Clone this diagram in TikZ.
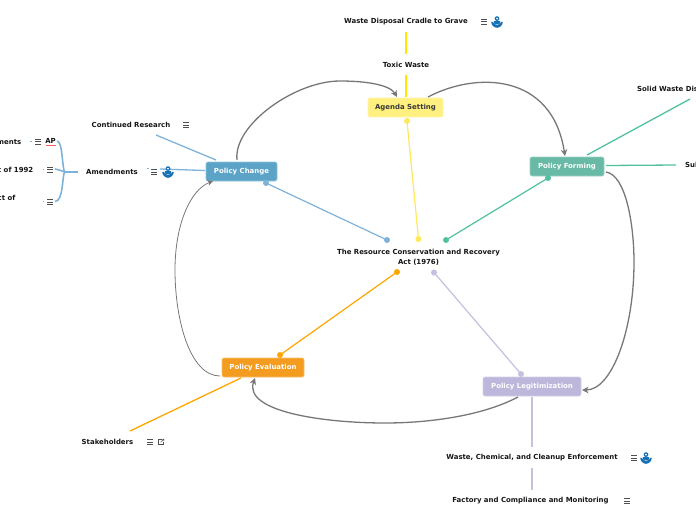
\documentclass[tikz,border=0pt]{standalone}
\usepackage{fontspec}
\setmainfont{DejaVu Sans}
\definecolor{cblue}{HTML}{5BA4C7}
\definecolor{lblue}{HTML}{7FB2D9}
\definecolor{cyel}{HTML}{FFF080}
\definecolor{lyel}{HTML}{FFE85C}
\definecolor{lyel2}{HTML}{FFE600}
\definecolor{cgreen}{HTML}{68B9A5}
\definecolor{lgreen}{HTML}{50C0A0}
\definecolor{corange}{HTML}{F39C1F}
\definecolor{lorange}{HTML}{FFA500}
\definecolor{cpurple}{HTML}{BDB7DB}
\definecolor{lpurple}{HTML}{C5BFE0}
\definecolor{curve}{HTML}{7A7676}
\definecolor{iconblue}{HTML}{1670B5}
\definecolor{ink}{HTML}{151515}
\usetikzlibrary{arrows.meta}
\newcommand{\lowtext}[1]{\raisebox{-1pt}{#1}}
\tikzset{
  x=1pt,y=-1pt,
  topic/.style={rounded corners=2pt,draw=#1!65!white,line width=.6pt,fill=#1,text=white,font=\bfseries\fontsize{6.95}{8}\selectfont,inner sep=0pt,align=center},
  leaf/.style={text=ink,font=\bfseries\fontsize{6.95}{10}\selectfont,inner sep=0pt,align=center,yshift=-1pt},
  pin/.style={circle,fill=#1,inner sep=0pt,minimum size=6pt},
  branch/.style={line width=1.3pt},
  relate/.style={draw=curve,line width=1.3pt,-{Stealth[length=6.5pt,width=6.5pt,inset=2pt]}},
  menuicon/.pic={
    \draw[ink!75,line width=.65pt] (-3,-2.6)--(3,-2.6) (-3,0)--(3,0) (-3,2.6)--(3,2.6);
  },
  bluelogo/.pic={
    \fill[iconblue] (0,-3.4) circle (2.4);
    \fill[white] (0,-3.4) circle (.9);
    \fill[iconblue] (-3.2,-1) -- (3.2,-1) -- (3.2,1.6) -- (1,2) -- (-1,2) -- (-3.2,1.6) -- cycle;
    \fill[iconblue] (-5.8,-.2) -- (-4.2,-.2) .. controls (-4,1.8) and (-2,2.6) .. (0,2.8) .. controls (2,2.6) and (4,1.8) .. (4.2,-.2) -- (5.8,-.2) .. controls (5.8,3.5) and (2.5,5.8) .. (0,5.8) .. controls (-2.5,5.8) and (-5.8,3.5) .. (-5.8,-.2) -- cycle;
  },
  linkicon/.pic={
    \draw[ink!75,line width=.55pt] (.5,-2.7) -- (-2.7,-2.7) -- (-2.7,2.7) -- (2.7,2.7) -- (2.7,-.5);
    \draw[ink!75,line width=.55pt] (-.3,.3) -- (2.7,-2.7) (1,-2.9) -- (2.9,-2.9) -- (2.9,-1);
  }
}
\begin{document}
\begin{tikzpicture}
\useasboundingbox (0,0) rectangle (696,520);
% central topic
\node[leaf] (root) at (418.5,256) {The Resource Conservation and Recovery\\Act (1976)};
% main topics
\node[topic=cyel,text=ink!85,minimum width=75pt,minimum height=19pt] (agenda) at (405.5,107.5) {\lowtext{Agenda Setting}};
\node[topic=cblue,minimum width=71pt,minimum height=19pt] (change) at (241.5,171.5) {\lowtext{Policy Change}};
\node[topic=cgreen,minimum width=74pt,minimum height=19pt] (forming) at (567,166.5) {\lowtext{Policy Forming}};
\node[topic=corange,minimum width=82pt,minimum height=19pt] (evaluation) at (263,367.5) {\lowtext{Policy Evaluation}};
\node[topic=cpurple,minimum width=98pt,minimum height=19pt] (legit) at (532,386.5) {\lowtext{Policy Legitimization}};
% pins
\node[pin=lblue] (p1a) at (387,240) {};
\node[pin=lblue] (p1b) at (266,183) {};
\node[pin=lyel] (p2a) at (418.5,239) {};
\node[pin=lyel] (p2b) at (407,121) {};
\node[pin=lgreen] (p3a) at (446,240) {};
\node[pin=lgreen] (p3b) at (548,178) {};
\node[pin=lorange] (p4a) at (397,272) {};
\node[pin=lorange] (p4b) at (280,355) {};
\node[pin=lpurple] (p5a) at (434,272.5) {};
\node[pin=lpurple] (p5b) at (521,374) {};
\draw[lblue,line width=1.2pt] (p1a.center)--(p1b.center);
\draw[lyel,line width=1.2pt] (p2a.center)--(p2b.center);
\draw[lgreen,line width=1.2pt] (p3a.center)--(p3b.center);
\draw[lorange,line width=1.2pt] (p4a.center)--(p4b.center);
\draw[lpurple,line width=1.2pt] (p5a.center)--(p5b.center);
% leaves
\node[leaf] (waste) at (406,21) {Waste Disposal Cradle to Grave};
\node[leaf] (toxic) at (406,64) {Toxic Waste};
\node[leaf] (research) at (131,124) {Continued Research};
\node[leaf] (amend) at (112,171) {Amendments};
\node[leaf,anchor=east] (f1) at (21.5,141) {ments};
\node[leaf,anchor=east] (f2) at (33.5,169) {t of 1992};
\node[leaf,anchor=east] (f3) at (15.5,197) {ct of};
\node[leaf] (ap) at (50.5,140) {AP};
\node[leaf,anchor=west] (solid) at (637,88) {Solid Waste Dis};
\node[leaf,anchor=west] (sul) at (685,164) {Sul};
\node[leaf] (stake) at (107.5,441) {Stakeholders};
\node[leaf] (enforce) at (532,457) {Waste, Chemical, and Cleanup Enforcement};
\node[leaf] (factory) at (530.5,500) {Factory and Compliance and Monitoring};
% free ends
\coordinate (e1) at (406,32); \coordinate (e2) at (406,54);
\coordinate (e3) at (406,75); \coordinate (e4) at (406,97);
\coordinate (e5) at (156,135); \coordinate (e6) at (216,160);
\coordinate (e7) at (160,169); \coordinate (e8) at (205,170.5);
\coordinate (e9) at (587,155); \coordinate (e10) at (690,99);
\coordinate (e11) at (606,165.5); \coordinate (e12) at (676,165);
\coordinate (e13) at (241,378); \coordinate (e14) at (130,431);
\coordinate (e15) at (532,397); \coordinate (e16) at (532,447);
\coordinate (e17) at (532,468); \coordinate (e18) at (532,490);
\coordinate (hub) at (65,172); \coordinate (hubr) at (78,172);
\coordinate (b1) at (57,141); \coordinate (b2) at (55,169); \coordinate (b3) at (55,201.5);
% branches
\draw[lyel2,branch] (e1)--(e2);
\draw[lyel2,branch] (e3)--(e4);
\draw[lblue,branch] (e5)--(e6);
\draw[lblue,branch] (e7)--(e8);
\draw[lgreen,branch] (e9)--(e10);
\draw[lgreen,branch] (e11)--(e12);
\draw[lorange,branch] (e13)--(e14);
\draw[lpurple,branch] (e15)--(e16);
\draw[lpurple,branch] (e17)--(e18);
\draw[lblue,line width=1.6pt] (hubr)--(hub);
\draw[lblue,line width=1.6pt] (hub) .. controls (62,171) and (63,141) .. (b1);
\draw[lblue,line width=1.6pt] (hub) .. controls (62,171) and (60,170) .. (b2);
\draw[lblue,line width=1.6pt] (hub) .. controls (62,172) and (64,201.5) .. (b3);
\draw[lblue,line width=1pt] (30,141.5)--(32,141.5) (42.5,169.5)--(44,169.5) (42.5,201.5)--(44,201.5) (146.5,168.5)--(148.5,168.5);
% relationship curves
\coordinate (r1a) at (237,160); \coordinate (r1b) at (340,81); \coordinate (r1c) at (397,97);
\draw[relate] (r1a) .. controls (233,125) and (295,81) .. (r1b) .. controls (367,81) and (390,85) .. (r1c);
\coordinate (r2a) at (428,97); \coordinate (r2b) at (565,156);
\draw[relate] (r2a) .. controls (475,72) and (552,72) .. (r2b);
\coordinate (r3a) at (606,172); \coordinate (r3b) at (634,262); \coordinate (r3c) at (582,390);
\draw[relate] (r3a) .. controls (626,175) and (634,225) .. (r3b) .. controls (634,330) and (612,390) .. (r3c);
\coordinate (r4a) at (518,397); \coordinate (r4b) at (385,423); \coordinate (r4c) at (255,378);
\draw[relate] (r4a) .. controls (480,417) and (425,423) .. (r4b) .. controls (325,423) and (243,412) .. (r4c);
\coordinate (r5a) at (220,376); \coordinate (r5b) at (175,270); \coordinate (r5c) at (213,181);
\draw[draw=curve,line width=.8pt,-{Stealth[length=5.5pt,width=5.5pt,inset=1.5pt]}] (r5a) .. controls (190,376) and (175,320) .. (r5b) .. controls (175,225) and (190,190) .. (r5c);
% AP underline
\draw[red!65!white,line width=1pt] (45.5,145.7)--(56,145.7);
% icons
\pic at (38,141.5) {menuicon};
\pic at (50,169.5) {menuicon};
\pic at (50,202) {menuicon};
\pic at (154,172) {menuicon};
\pic at (186,125) {menuicon};
\pic at (484,21.5) {menuicon};
\pic at (150,442) {menuicon};
\pic at (634,458) {menuicon};
\pic at (627,501) {menuicon};
\pic at (497,22) {bluelogo};
\pic at (168,172) {bluelogo};
\pic at (646,458) {bluelogo};
\pic at (161,442) {linkicon};
\end{tikzpicture}
\end{document}
